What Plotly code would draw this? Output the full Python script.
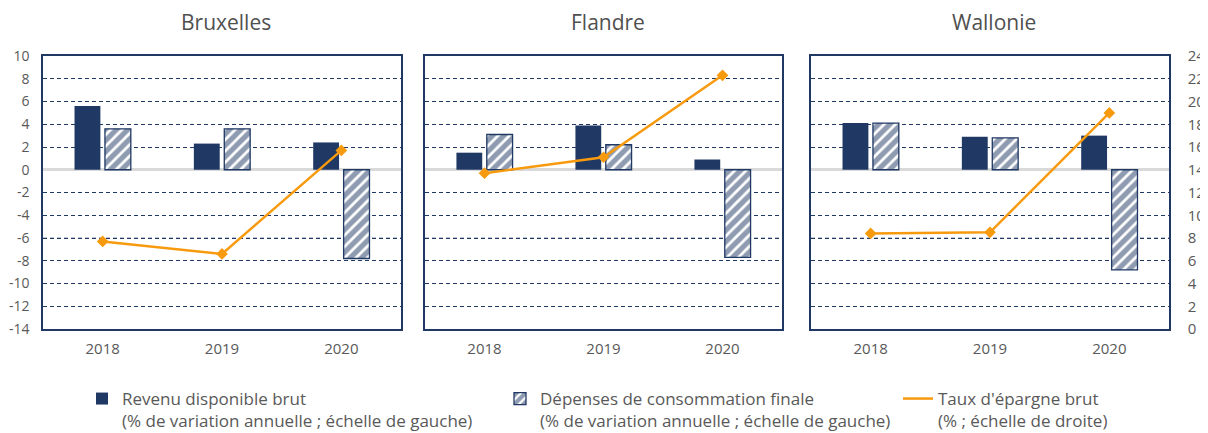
import plotly.graph_objects as go
from plotly.subplots import make_subplots

years = ["2018", "2019", "2020"]
regions = ["Bruxelles", "Flandre", "Wallonie"]

revenu_bruxelles = [5.6, 2.3, 2.4]
revenu_flandre = [1.5, 3.9, 0.9]
revenu_wallonie = [4.1, 2.9, 3.0]

depenses_bruxelles = [3.6, 3.6, -7.8]
depenses_flandre = [3.1, 2.2, -7.7]
depenses_wallonie = [4.1, 2.8, -8.8]

epargne_bruxelles = [7.7, 6.6, 15.7]
epargne_flandre = [13.7, 15.1, 22.3]
epargne_wallonie = [8.4, 8.5, 19.0]

left_ticks = list(range(-14, 11, 2))
left_tick_labels = [str(v) for v in left_ticks]
right_ticks = list(range(0, 25, 2))

revenu = [revenu_bruxelles, revenu_flandre, revenu_wallonie]
depenses = [depenses_bruxelles, depenses_flandre, depenses_wallonie]
epargne = [epargne_bruxelles, epargne_flandre, epargne_wallonie]

NAVY = "#1F3864"
ORANGE = "#F79A0E"
GREY = "#595959"
FONT = "Open Sans"

name_rev = "Revenu disponible brut<br>(% de variation annuelle ; échelle de gauche)"
name_dep = "Dépenses de consommation finale<br>(% de variation annuelle ; échelle de gauche)"
name_ep = "Taux d'épargne brut<br>(% ; échelle de droite)"

fig = make_subplots(rows=1, cols=3, specs=[[{"secondary_y": True}] * 3])

# the page body has an 8px margin, so the figure is 8px smaller and all window coordinates shift by 8
OFF = 8
W, H = 1208 - OFF, 433 - OFF


def px_x(x):
    return (x - OFF) / W


def px_y(y):
    return 1 - (y - OFF) / H


x_domains = [(43, 401), (425, 782), (811, 1169)]
y_top, y_bot = 56, 329

for i, reg in enumerate(regions):
    c = i + 1
    first = i == 0
    fig.add_trace(go.Bar(x=years, y=revenu[i], name=name_rev, marker=dict(color=NAVY, line=dict(width=0)),
                         showlegend=first, legend="legend"), row=1, col=c, secondary_y=False)
    fig.add_trace(go.Bar(x=years, y=depenses[i], name=name_dep,
                         marker=dict(color="white", line=dict(color=NAVY, width=1.3),
                                     pattern=dict(shape="/", fgcolor=NAVY, bgcolor="white", size=8, solidity=0.65)),
                         showlegend=first, legend="legend2"), row=1, col=c, secondary_y=False)
    fig.add_trace(go.Scatter(x=years, y=epargne[i], name=name_ep, mode="lines+markers",
                             line=dict(color=ORANGE, width=2.5), marker=dict(symbol="diamond", size=9, color=ORANGE),
                             showlegend=False), row=1, col=c, secondary_y=True)
    fig.update_xaxes(domain=[px_x(x_domains[i][0]), px_x(x_domains[i][1])], row=1, col=c, automargin=False,
                     showline=True, mirror=True, linecolor=NAVY, linewidth=1.5,
                     ticks="outside", ticklen=5, tickcolor="rgba(0,0,0,0)",
                     tickfont=dict(family=FONT, size=15, color=GREY), showgrid=False)
    fig.update_yaxes(domain=[px_y(y_bot), px_y(y_top)], range=[-14, 10],
                     tickvals=left_ticks, ticktext=left_tick_labels,
                     row=1, col=c, secondary_y=False, automargin=False,
                     showline=True, linecolor=NAVY, linewidth=1.5,
                     showgrid=True, gridcolor=NAVY, gridwidth=1.3, griddash="4px,3px",
                     zeroline=True, zerolinecolor="#D9D9D9", zerolinewidth=2.5,
                     showticklabels=first, ticks="outside", ticklen=9, tickcolor="rgba(0,0,0,0)",
                     tickfont=dict(family=FONT, size=14, color=GREY))
    fig.update_yaxes(range=[0, 24], tickvals=right_ticks, row=1, col=c, secondary_y=True, automargin=False,
                     showline=True, linecolor=NAVY, linewidth=1.5, showgrid=False, zeroline=False,
                     showticklabels=(i == 2), ticks="outside", ticklen=14, tickcolor="rgba(0,0,0,0)",
                     tickfont=dict(family=FONT, size=15, color=GREY))
    fig.add_annotation(text=reg, x=px_x((x_domains[i][0] + x_domains[i][1]) / 2 + 4), y=px_y(22),
                       xref="paper", yref="paper", xanchor="center", yanchor="middle", showarrow=False,
                       font=dict(family=FONT, size=21, color="#505050"))

# lighter dashed line over the -6 gridline, as in the reference
for i in range(3):
    xa = "x" if i == 0 else f"x{i + 1}"
    ya = "y" if i == 0 else f"y{2 * i + 1}"
    fig.add_shape(type="line", xref=f"{xa} domain", yref=ya, x0=0, x1=1, y0=-6, y1=-6,
                  line=dict(color="white", width=2), layer="below")
    fig.add_shape(type="line", xref=f"{xa} domain", yref=ya, x0=0, x1=1, y0=-6, y1=-6,
                  line=dict(color="#A9B2C8", width=1.3, dash="4px,3px"), layer="below")

# legend-only entry for the line (no marker in reference legend)
fig.add_trace(go.Scatter(x=[None], y=[None], mode="lines", name=name_ep,
                         line=dict(color=ORANGE, width=2.5), legend="legend3", showlegend=True),
              row=1, col=1, secondary_y=True)

legend_style = dict(orientation="v", yanchor="top", xanchor="left", valign="top",
                    font=dict(family=FONT, size=17, color=GREY), bgcolor="rgba(0,0,0,0)",
                    itemwidth=30, tracegroupgap=0)
fig.update_layout(
    width=W, height=H,
    margin=dict(l=0, r=0, t=0, b=0, autoexpand=False),
    paper_bgcolor="white", plot_bgcolor="white",
    barmode="group", bargap=0.49, bargroupgap=0.15,
    legend=dict(x=px_x(82), y=px_y(381), **legend_style),
    legend2=dict(x=px_x(500), y=px_y(381), **legend_style),
    legend3=dict(x=px_x(898), y=px_y(381), **legend_style),
    showlegend=True,
)

fig.write_html("out.html")
